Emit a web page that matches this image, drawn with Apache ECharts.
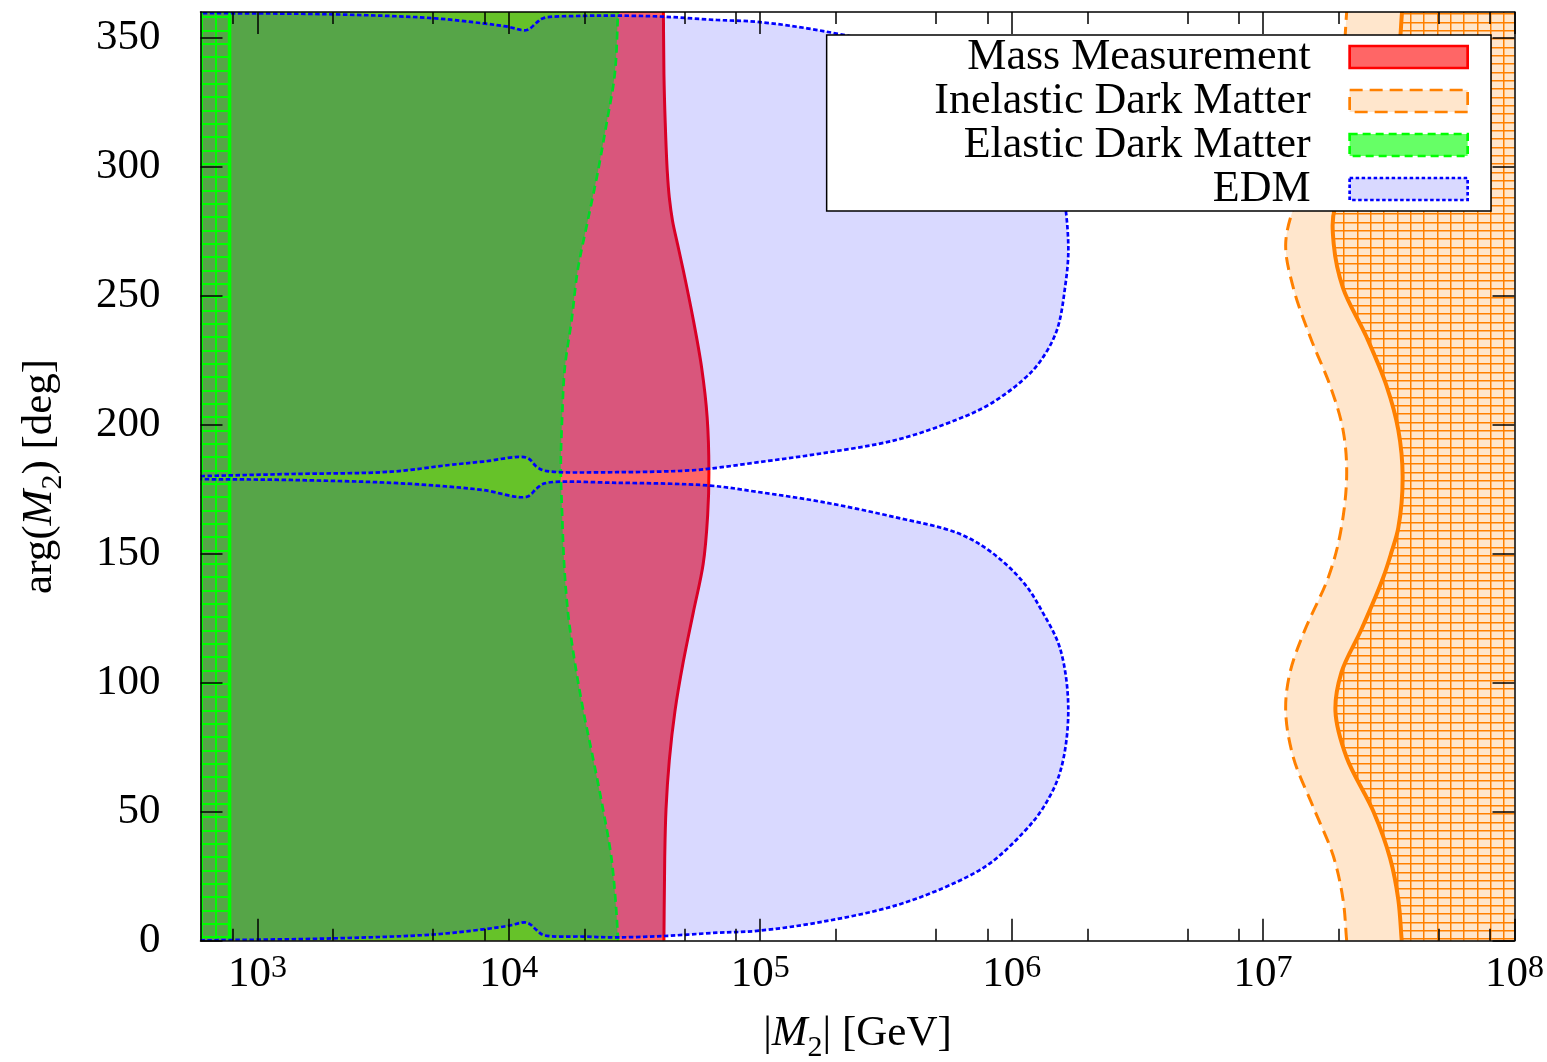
<!DOCTYPE html>
<html>
<head>
<meta charset="utf-8">
<script src="https://cdn.jsdelivr.net/npm/echarts@6/dist/echarts.min.js"></script>
<style>
  html, body { margin: 0; padding: 0; background: #fff; }
  #chart { width: 1547px; height: 1062px; }
</style>
</head>
<body>
<div id="chart"></div>
<script>
// ---- axis ranges and ticks ----
const xMin = 594, xMax = 1e8;
const yMin = 0, yMax = 360;
const xMajorTicks = [1e3, 1e4, 1e5, 1e6, 1e7, 1e8];
const xMinorTicks = [800, 2e3, 5e3, 8e3, 2e4, 5e4, 8e4, 2e5, 5e5, 8e5, 2e6, 5e6, 8e6, 2e7, 5e7, 8e7];
const yTicks = [0, 50, 100, 150, 200, 250, 300, 350];

// ---- exclusion boundaries: [|M2| in GeV, arg(M2) in deg] ----
const massMeasurement = [
  [41400, 0], [41700, 32], [42200, 51], [43500, 70], [45800, 89], [49400, 108],
  [54100, 127], [59300, 146], [61800, 165], [62500, 182], [61500, 203], [58500, 222],
  [54100, 241], [49400, 260], [46900, 270], [44800, 279], [43500, 288], [42700, 298],
  [41900, 317], [41400, 336], [41200, 360]
];
const elasticDM = [
  [27200, 0], [26700, 13], [25600, 32], [23700, 51], [21700, 70], [19800, 89],
  [18300, 108], [17200, 127], [16600, 146], [16300, 165], [16100, 184], [16300, 203],
  [16700, 222], [17800, 241], [18800, 260], [20600, 279], [22600, 298], [24500, 317],
  [26400, 336], [27200, 360]
];
const elasticDMLowMass = 775;   // region below this mass is hatched
const inelasticDM = [
  [2.15e7, 0], [2.08e7, 16], [1.90e7, 33], [1.58e7, 52], [1.32e7, 71], [1.23e7, 89],
  [1.28e7, 104], [1.46e7, 120], [1.82e7, 141], [2.03e7, 158], [2.15e7, 180], [2.08e7, 198],
  [1.85e7, 215], [1.54e7, 234], [1.32e7, 253], [1.23e7, 270], [1.34e7, 286], [1.60e7, 305],
  [1.90e7, 323], [2.08e7, 342], [2.15e7, 360]
];
const inelasticDMStrong = [
  [3.56e7, 0], [3.45e7, 16], [3.20e7, 32], [2.75e7, 50], [2.15e7, 71], [1.94e7, 89],
  [2.05e7, 104], [2.47e7, 121], [3.01e7, 141], [3.25e7, 151], [3.45e7, 160], [3.59e7, 180],
  [3.45e7, 198], [3.10e7, 215], [2.58e7, 234], [2.08e7, 253], [1.91e7, 270], [1.93e7, 284],
  [2.40e7, 300], [3.05e7, 320], [3.43e7, 340], [3.57e7, 360]
];
const edmLowerLobe = [
  [594, 0.1], [2000, 0.9], [5000, 2.4], [7900, 4.4], [9900, 5.7], [11800, 7.0],
  [12900, 4.1], [13700, 2.2], [19700, 1.6], [26900, 1.3], [41000, 1.8], [67300, 3.1],
  [97000, 3.8], [178000, 7.4], [350000, 13.8], [606000, 22.8], [820000, 30.0],
  [1110000, 41.8], [1330000, 51.3], [1560000, 65.5], [1680000, 89.3], [1560000, 113.1],
  [1330000, 127.2], [1110000, 139.1], [820000, 151.0], [606000, 158.1], [350000, 164.0],
  [178000, 170.0], [97000, 174.0], [63100, 176.4], [26900, 177.5], [13900, 177.3],
  [12900, 175.3], [11800, 172.1], [7900, 174.7], [5800, 176.0], [3400, 177.5],
  [1350, 178.6], [594, 178.9]
];
const edmUpperLobe = [
  [594, 180.1], [1350, 180.9], [3400, 181.8], [5800, 184.4], [7900, 185.7], [11800, 187.2],
  [12900, 183.7], [13900, 182.2], [26900, 181.6], [52500, 182.3], [63100, 183.0],
  [97000, 185.4], [178000, 189.0], [350000, 194.2], [606000, 202.0], [820000, 208.0],
  [1110000, 217.4], [1300000, 224.6], [1510000, 236.4], [1630000, 253.1], [1680000, 269.7],
  [1560000, 294.5], [1330000, 308.7], [1110000, 318.2], [820000, 330.0], [606000, 337.2],
  [350000, 346.2], [178000, 352.6], [97000, 356.2], [67300, 356.9], [41000, 358.2],
  [26900, 358.6], [19700, 358.5], [13700, 357.6], [12900, 355.9], [11800, 353.0],
  [9900, 354.3], [7900, 355.6], [5000, 357.6], [2000, 359.1], [594, 359.6]
];

// ---- legend labels ----
const legendNames = ['Mass Measurement', 'Inelastic Dark Matter', 'Elastic Dark Matter', 'EDM'];

// ---- styling ----
const FONT = '"Liberation Serif", "DejaVu Serif", serif';
const RED = '#ff0000', ORANGE = '#ff8000', GREEN = '#00ff00', BLUE = '#0000ff';
const RED_FILL = 'rgba(255,0,0,0.6)';
const ORANGE_FILL = 'rgba(255,128,0,0.2)';
const GREEN_FILL = 'rgba(0,255,0,0.6)';
const BLUE_FILL = 'rgba(0,0,255,0.15)';

// Square-grid hatching tiles
function gridTile(w, h, xs, ys, color, lw) {
  const c = document.createElement('canvas');
  c.width = w; c.height = h;
  const g = c.getContext('2d');
  g.fillStyle = color;
  xs.forEach(x => g.fillRect(x, 0, lw, h));
  ys.forEach(y => g.fillRect(0, y, w, lw));
  return c;
}
const orangeHatch = { image: gridTile(40, 25, [0, 13, 27], [0, 8, 17], ORANGE, 1.5), repeat: 'repeat', x: 10, y: 5 };
const greenHatch = { image: gridTile(43, 40, [0, 14, 29], [0, 13, 27], GREEN, 2), repeat: 'repeat', x: 0, y: 3 };

// Smooth curve through pixel points (centripetal Catmull-Rom as cubic Beziers)
function f(v) { return v.toFixed(2); }
function dist(a, b) { return Math.hypot(b[0] - a[0], b[1] - a[1]); }
function curve(pts, cmd) {
  const n = pts.length;
  let d = cmd + f(pts[0][0]) + ',' + f(pts[0][1]);
  for (let i = 0; i < n - 1; i++) {
    const p1 = pts[i], p2 = pts[i + 1];
    const p0 = i > 0 ? pts[i - 1] : [2 * p1[0] - p2[0], 2 * p1[1] - p2[1]];
    const p3 = i + 2 < n ? pts[i + 2] : [2 * p2[0] - p1[0], 2 * p2[1] - p1[1]];
    const d1 = Math.sqrt(dist(p0, p1)), d2 = Math.sqrt(dist(p1, p2)), d3 = Math.sqrt(dist(p2, p3));
    let c1 = p1, c2 = p2;
    if (d1 > 1e-6 && d2 > 1e-6) {
      const a = 2 * d1 * d1 + 3 * d1 * d2 + d2 * d2, m = 3 * d1 * (d1 + d2);
      c1 = [(d1 * d1 * p2[0] - d2 * d2 * p0[0] + a * p1[0]) / m,
            (d1 * d1 * p2[1] - d2 * d2 * p0[1] + a * p1[1]) / m];
    }
    if (d3 > 1e-6 && d2 > 1e-6) {
      const b = 2 * d3 * d3 + 3 * d3 * d2 + d2 * d2, m = 3 * d3 * (d3 + d2);
      c2 = [(d3 * d3 * p1[0] - d2 * d2 * p3[0] + b * p2[0]) / m,
            (d3 * d3 * p1[1] - d2 * d2 * p3[1] + b * p2[1]) / m];
    }
    d += 'C' + f(c1[0]) + ',' + f(c1[1]) + ',' + f(c2[0]) + ',' + f(c2[1]) + ',' + f(p2[0]) + ',' + f(p2[1]);
  }
  return d;
}
function px(api, pts) { return pts.map(p => api.coord(p)); }
function pt(api, x, y, cmd) { const c = api.coord([x, y]); return cmd + f(c[0]) + ',' + f(c[1]); }

// region left of a curve |M2| = f(angle)
function leftRegion(api, pts) {
  return pt(api, xMin, yMin, 'M') + curve(px(api, pts), 'L') + pt(api, xMin, yMax, 'L') + 'Z';
}
// region right of a curve
function rightRegion(api, pts) {
  return curve(px(api, pts), 'M') + pt(api, xMax, yMax, 'L') + pt(api, xMax, yMin, 'L') + 'Z';
}
function closedLobe(api, pts) { return curve(px(api, pts), 'M') + 'Z'; }
function openLine(api, pts) { return curve(px(api, pts), 'M'); }

function layer(name, z, color, draw) {
  return {
    type: 'custom', name: name, z: z, silent: true, clip: true,
    coordinateSystem: 'cartesian2d', xAxisIndex: 0, yAxisIndex: 0,
    itemStyle: { color: color },
    data: [[1000, 180]],
    renderItem: function (params, api) { return draw(api); }
  };
}
function pathEl(d, style) { return { type: 'path', shape: { pathData: d }, style: style }; }

const series = [
  layer('Mass Measurement', 2, RED_FILL, api =>
    pathEl(leftRegion(api, massMeasurement), { fill: RED_FILL, stroke: null })),
  layer('Elastic Dark Matter', 3, GREEN_FILL, api =>
    pathEl(leftRegion(api, elasticDM), { fill: GREEN_FILL, stroke: null })),
  layer('Inelastic Dark Matter', 4, ORANGE_FILL, api => ({
    type: 'group', children: [
      pathEl(rightRegion(api, inelasticDM), { fill: ORANGE_FILL, stroke: null }),
      pathEl(rightRegion(api, inelasticDMStrong), { fill: orangeHatch, stroke: null })
    ]
  })),
  layer('Mass Measurement', 5, RED, api =>
    pathEl(openLine(api, massMeasurement), { fill: 'none', stroke: RED, lineWidth: 3 })),
  layer('Elastic Dark Matter', 5, GREEN, api =>
    pathEl(openLine(api, elasticDM), { fill: 'none', stroke: GREEN, lineWidth: 2.7, lineDash: [8, 5] })),
  layer('Inelastic Dark Matter', 5, ORANGE, api => ({
    type: 'group', children: [
      pathEl(openLine(api, inelasticDMStrong), { fill: 'none', stroke: ORANGE, lineWidth: 4 }),
      pathEl(openLine(api, inelasticDM), { fill: 'none', stroke: ORANGE, lineWidth: 3, lineDash: [13, 7] })
    ]
  })),
  layer('EDM', 6, BLUE_FILL, api => ({
    type: 'group', children: [
      pathEl(closedLobe(api, edmLowerLobe), { fill: BLUE_FILL, stroke: null }),
      pathEl(closedLobe(api, edmUpperLobe), { fill: BLUE_FILL, stroke: null })
    ]
  })),
  layer('Elastic Dark Matter', 7, GREEN, api => {
    const a = api.coord([xMin, yMax]), b = api.coord([elasticDMLowMass, yMin]);
    return {
      type: 'group', children: [
        { type: 'rect', shape: { x: a[0], y: a[1], width: b[0] - a[0], height: b[1] - a[1] },
          style: { fill: greenHatch, stroke: null } },
        { type: 'line', shape: { x1: b[0], y1: a[1], x2: b[0], y2: b[1] },
          style: { stroke: GREEN, lineWidth: 3.5 } }
      ]
    };
  }),
  layer('EDM', 8, BLUE, api => ({
    type: 'group', children: [
      pathEl(openLine(api, edmLowerLobe), { fill: 'none', stroke: BLUE, lineWidth: 2.7, lineDash: [4.5, 2.5] }),
      pathEl(openLine(api, edmUpperLobe), { fill: 'none', stroke: BLUE, lineWidth: 2.7, lineDash: [4.5, 2.5] })
    ]
  }))
];

// ---- axes ----
const tickLine = { color: '#000', width: 1.5 };
function logAxis(position, ticks, len, showLine, showLabels) {
  return {
    type: 'log', logBase: 10, min: xMin, max: xMax, position: position, z: 50,
    splitLine: { show: false }, minorTick: { show: false },
    axisLine: { show: showLine, onZero: false, lineStyle: { color: '#000', width: 1.5 } },
    axisTick: { show: true, inside: true, length: len, customValues: ticks, lineStyle: tickLine },
    axisLabel: showLabels ? {
      show: true, customValues: xMajorTicks, margin: 12, color: '#000',
      formatter: v => '{b|10}{e|' + Math.round(Math.log10(v)) + '}',
      rich: {
        b: { fontFamily: FONT, fontSize: 43, lineHeight: 44, padding: [6, 0, 0, 0], verticalAlign: 'bottom', color: '#000' },
        e: { fontFamily: FONT, fontSize: 32, lineHeight: 31, verticalAlign: 'top', color: '#000' }
      }
    } : { show: false }
  };
}
const titleRich = {
  n: { fontFamily: FONT, fontSize: 43, lineHeight: 50, verticalAlign: 'top', color: '#000' },
  i: { fontFamily: FONT, fontSize: 43, lineHeight: 50, fontStyle: 'italic', verticalAlign: 'top', color: '#000' },
  s: { fontFamily: FONT, fontSize: 30, lineHeight: 30, verticalAlign: 'bottom', color: '#000' }
};
const xAxes = [
  Object.assign(logAxis('bottom', xMajorTicks, 22, true, true), {
    name: '{n||}{i|M}{s|2}{n|| [GeV]}', nameLocation: 'middle', nameGap: 72,
    nameTextStyle: { rich: titleRich }
  }),
  logAxis('bottom', xMinorTicks, 12, false, false),
  logAxis('top', xMajorTicks, 22, true, false),
  logAxis('top', xMinorTicks, 12, false, false)
];
function angleAxis(position, labels) {
  return {
    type: 'value', min: yMin, max: yMax, position: position, z: 50,
    splitLine: { show: false },
    axisLine: { show: true, onZero: false, lineStyle: { color: '#000', width: 1.5 } },
    axisTick: { show: true, inside: true, length: 22, customValues: yTicks, lineStyle: tickLine },
    axisLabel: labels ? {
      show: true, customValues: yTicks, margin: 40, color: '#000', fontFamily: FONT, fontSize: 43
    } : { show: false }
  };
}
const yAxes = [
  Object.assign(angleAxis('left', true), {
    name: '{n|arg(}{i|M}{s|2}{n|) [deg]}', nameLocation: 'middle', nameRotate: 90, nameGap: 132,
    nameTextStyle: { rich: titleRich }
  }),
  angleAxis('right', false)
];

const legendStyles = [
  { fill: RED_FILL, stroke: RED, dash: 'solid' },
  { fill: ORANGE_FILL, stroke: ORANGE, dash: [13, 7] },
  { fill: GREEN_FILL, stroke: GREEN, dash: [8, 5] },
  { fill: BLUE_FILL, stroke: BLUE, dash: [3.5, 2.5] }
];

const option = {
  animation: false,
  backgroundColor: '#fff',
  grid: { left: 200.5, right: 32.5, top: 12, bottom: 121.3, containLabel: false, outerBoundsMode: 'none' },
  xAxis: xAxes,
  yAxis: yAxes,
  legend: {
    orient: 'vertical', right: 56, top: 35, z: 60,
    backgroundColor: '#fff', borderColor: '#000', borderWidth: 1.5, borderRadius: 0,
    padding: [0, 22, 0, 44], itemGap: 0, itemWidth: 118, itemHeight: 22,
    align: 'right', selectedMode: false,
    textStyle: {
      fontFamily: FONT, fontSize: 44, color: '#000', lineHeight: 42,
      width: 440, align: 'right', padding: [0, 34, 0, 0]
    },
    data: legendNames.map((n, i) => ({
      name: n, icon: 'rect',
      itemStyle: {
        color: legendStyles[i].fill, borderColor: legendStyles[i].stroke,
        borderWidth: 2.7, borderType: legendStyles[i].dash
      }
    }))
  },
  series: series
};

const chart = echarts.init(document.getElementById('chart'), null, { renderer: 'canvas' });
chart.setOption(option);
</script>
</body>
</html>
